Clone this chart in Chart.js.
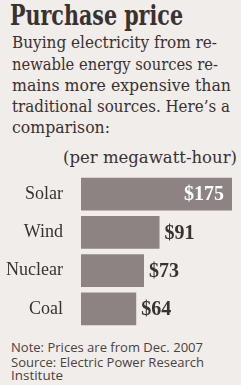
<!DOCTYPE html>
<html>
<head>
<meta charset="utf-8">
<script src="https://cdn.jsdelivr.net/npm/chart.js@4"></script>
<style>
  html, body { margin: 0; padding: 0; }
  body { width: 241px; height: 385px; background: #f1edea; position: relative; overflow: hidden; color: #3a3131; }
  .t { position: absolute; white-space: nowrap; transform-origin: 0 0; }
  .title { font: bold 27px "DejaVu Serif", serif; }
  .body { font: 17px "DejaVu Serif", serif; }
  .foot { font: 12px "Open Sans", sans-serif; color: #4a4141; }
  #chart { position: absolute; left: 0; top: 175px; }
</style>
</head>
<body>
<div class="t title" data-w="173" style="left:10px; top:0px;">Purchase price</div>
<div class="t body" data-w="205" style="left:12px; top:32px;">Buying electricity from re-</div>
<div class="t body" data-w="206" style="left:12px; top:53.5px;">newable energy sources re-</div>
<div class="t body" data-w="219" style="left:12px; top:75px;">mains more expensive than</div>
<div class="t body" data-w="218" style="left:12px; top:96px;">traditional sources. Here’s a</div>
<div class="t body" data-w="98" style="left:12px; top:117px;">comparison:</div>
<div class="t body" data-w="174" style="left:63px; top:147px;">(per megawatt-hour)</div>
<canvas id="chart" width="241" height="153"></canvas>
<div class="t foot" data-w="192" style="left:11px; top:339px;">Note: Prices are from Dec. 2007</div>
<div class="t foot" data-w="193" style="left:11px; top:354px;">Source: Electric Power Research</div>
<div class="t foot" data-w="52" style="left:11px; top:367px;">Institute</div>
<script>
// 資料
const sources = ['Solar', 'Wind', 'Nuclear', 'Coal'];
const prices = [175, 91, 73, 64];
const priceLabels = ['$175', '$91', '$73', '$64'];

// 把每行文字拉到參考圖的寬度
document.querySelectorAll('[data-w]').forEach(el => {
    const w = el.getBoundingClientRect().width;
    el.style.transform = `scaleX(${el.dataset.w / w})`;
});

// 數值標籤：第一根在長條內（白字），其他放在長條右邊
const valueLabels = {
    id: 'valueLabels',
    afterDatasetsDraw(chart) {
        const ctx = chart.ctx;
        const meta = chart.getDatasetMeta(0);
        ctx.save();
        ctx.font = 'bold 20px "Liberation Serif", serif';
        ctx.textBaseline = 'middle';
        meta.data.forEach((bar, i) => {
            if (i === 0) {
                ctx.fillStyle = '#ffffff';
                ctx.textAlign = 'right';
                ctx.fillText(priceLabels[i], bar.x - 8, bar.y + 1);
            } else {
                ctx.fillStyle = '#3a3131';
                ctx.textAlign = 'left';
                ctx.fillText(priceLabels[i], bar.x + 5, bar.y + 1);
            }
        });
        ctx.restore();
    }
};

new Chart(document.getElementById('chart'), {
    type: 'bar',
    data: {
        labels: sources,
        datasets: [{
            data: prices,
            backgroundColor: '#8d8383',
            barPercentage: 0.86,
            categoryPercentage: 1
        }]
    },
    options: {
        indexAxis: 'y',
        responsive: false,
        animation: false,
        layout: { padding: { left: 0, right: 9, top: 0, bottom: 0 } },
        scales: {
            x: { display: false, min: 0, max: 175 },
            y: {
                grid: { display: false },
                border: { display: false },
                afterFit: scale => {
                    scale.width = 81;
                    // 不要讓標籤高度把繪圖區上下撐開
                    scale.paddingTop = 0;
                    scale.paddingBottom = 0;
                },
                ticks: {
                    color: '#3a3131',
                    padding: 10,
                    font: { family: '"Liberation Serif", serif', size: 18 }
                }
            }
        },
        plugins: {
            legend: { display: false },
            tooltip: { enabled: false }
        }
    },
    plugins: [valueLabels]
});
</script>
</body>
</html>
